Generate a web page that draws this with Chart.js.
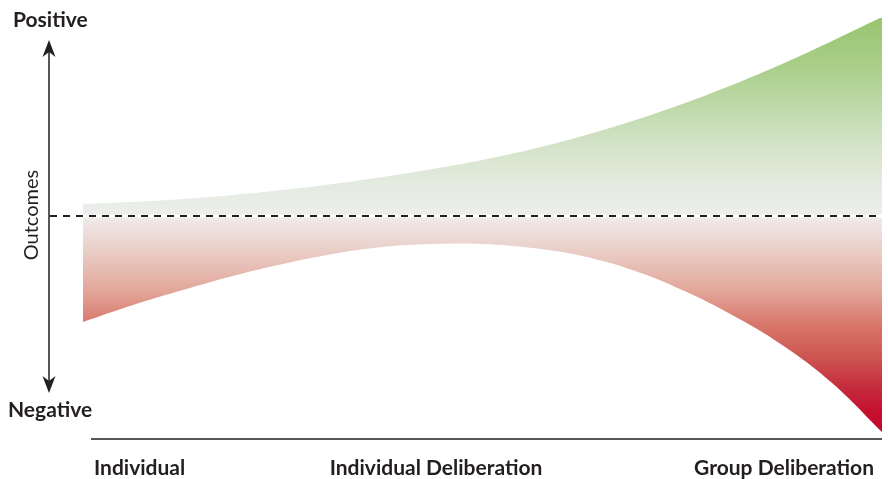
<!DOCTYPE html>
<html lang="en">
<head>
  <meta charset="UTF-8">
  <title>Outcomes of deliberation</title>
  <script src="https://cdn.jsdelivr.net/npm/chart.js"></script>
  <style>
    * { margin: 0; padding: 0; box-sizing: border-box; }
    body { background: #ffffff; }
    .wrap { position: relative; width: 888px; height: 479px; }
  </style>
</head>
<body>
  <div class="wrap"><canvas id="spread"></canvas></div>

  <script>
    // progression from individual (0) to group deliberation (100)
    const stages = [0, 6.25, 12.5, 18.75, 25, 31.25, 37.5, 43.75, 50, 56.25, 62.5, 68.75, 75, 81.25, 87.5, 93.75, 100];
    // best and worst outcomes relative to the neutral line
    const bestOutcome  = [12, 14, 17, 21, 26, 32, 39, 47, 56, 67, 80, 95, 112, 131, 152, 175, 199];
    const worstOutcome = [-106, -89, -74, -60, -48, -38, -31, -28, -28, -32, -40, -54, -74, -99, -129, -167, -216];
    const stageLabels = ['Individual', 'Individual Deliberation', 'Group Deliberation'];
    const axisLabels = { top: 'Positive', bottom: 'Negative', side: 'Outcomes' };

    const ink = '#231f20';

    function points(ys) {
      return stages.map((x, i) => ({ x: x, y: ys[i] }));
    }

    function greenFill(context) {
      const chart = context.chart;
      if (!chart.chartArea) return '#cfe0c2';
      const y = chart.scales.y;
      const g = chart.ctx.createLinearGradient(0, y.getPixelForValue(199), 0, y.getPixelForValue(0));
      g.addColorStop(0, '#97c46d');
      g.addColorStop(0.3, '#aed191');
      g.addColorStop(0.6, '#cfe1c2');
      g.addColorStop(0.85, '#e5ebe1');
      g.addColorStop(1, '#eceeeb');
      return g;
    }

    function redFill(context) {
      const chart = context.chart;
      if (!chart.chartArea) return '#e2a598';
      const y = chart.scales.y;
      const g = chart.ctx.createLinearGradient(0, y.getPixelForValue(0), 0, y.getPixelForValue(-216));
      g.addColorStop(0, '#f0ecec');
      g.addColorStop(0.15, '#ead0ca');
      g.addColorStop(0.35, '#e2a598');
      g.addColorStop(0.5, '#d8776b');
      g.addColorStop(0.65, '#cd5651');
      g.addColorStop(0.8, '#c52a3c');
      g.addColorStop(0.9, '#c5112f');
      g.addColorStop(1, '#c4082b');
      return g;
    }

    // arrow, neutral line, base line and labels
    const decor = {
      id: 'decor',
      afterDatasetsDraw(chart) {
        const c = chart.ctx;
        const x = chart.scales.x;
        const y = chart.scales.y;
        const y0 = y.getPixelForValue(0);
        const right = x.getPixelForValue(100);
        c.save();

        // neutral dashed line
        c.strokeStyle = '#ffffff';
        c.lineWidth = 3;
        c.beginPath(); c.moveTo(50, y0); c.lineTo(right, y0); c.stroke();
        c.strokeStyle = ink;
        c.lineWidth = 2;
        c.setLineDash([7, 6]);
        c.beginPath(); c.moveTo(50, y0); c.lineTo(right, y0); c.stroke();
        c.setLineDash([]);

        // vertical double arrow
        c.lineWidth = 1.5;
        c.beginPath(); c.moveTo(49, 48); c.lineTo(49, 386); c.stroke();
        c.fillStyle = ink;
        c.beginPath();
        c.moveTo(49, 40); c.lineTo(55.5, 57); c.lineTo(49, 52); c.lineTo(42.5, 57); c.closePath();
        c.fill();
        c.beginPath();
        c.moveTo(49, 393); c.lineTo(55.5, 376); c.lineTo(49, 381); c.lineTo(42.5, 376); c.closePath();
        c.fill();

        // base line
        c.lineWidth = 1.5;
        c.beginPath(); c.moveTo(91, 439); c.lineTo(right, 439); c.stroke();

        // labels
        c.fillStyle = ink;
        c.textBaseline = 'alphabetic';
        c.font = 'bold 21px Lato';
        c.textAlign = 'left';
        c.fillText(axisLabels.top, 13, 27);
        c.fillText(axisLabels.bottom, 8, 417);
        c.fillText(stageLabels[0], 94, 475);
        c.textAlign = 'center';
        c.fillText(stageLabels[1], 436, 475);
        c.textAlign = 'right';
        c.fillText(stageLabels[2], 874, 475);

        c.font = '20px Lato';
        c.textAlign = 'center';
        c.translate(38, 215);
        c.rotate(-Math.PI / 2);
        c.fillText(axisLabels.side, 0, 0);
        c.restore();
      }
    };

    new Chart(document.getElementById('spread'), {
      type: 'line',
      data: {
        datasets: [
          {
            label: 'Best outcome',
            data: points(bestOutcome),
            fill: { value: 0 },
            backgroundColor: greenFill,
            borderWidth: 0,
            pointRadius: 0,
            tension: 0.4
          },
          {
            label: 'Worst outcome',
            data: points(worstOutcome),
            fill: { value: 0 },
            backgroundColor: redFill,
            borderWidth: 0,
            pointRadius: 0,
            tension: 0.4
          }
        ]
      },
      options: {
        responsive: true,
        maintainAspectRatio: false,
        animation: false,
        layout: { padding: { left: 83, right: 6, top: 18, bottom: 47 } },
        scales: {
          x: { type: 'linear', min: 0, max: 100, display: false },
          y: { min: -216, max: 198, display: false }
        },
        plugins: { legend: { display: false }, tooltip: { enabled: false } }
      },
      plugins: [decor]
    });
  </script>
</body>
</html>
